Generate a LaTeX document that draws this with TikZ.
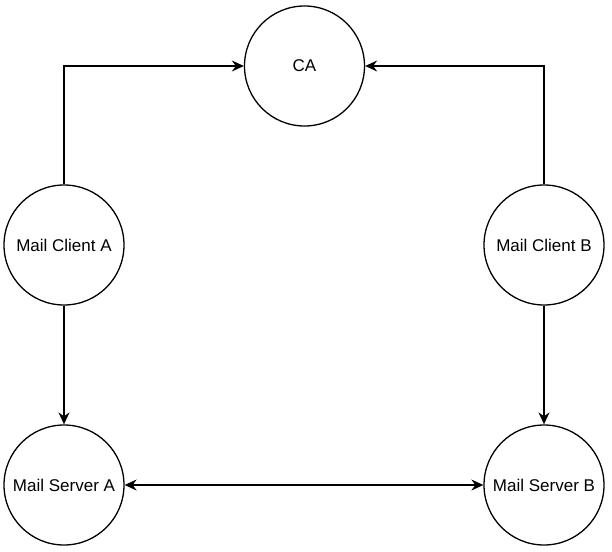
\documentclass[tikz,border=0pt]{standalone}
\usepackage{fontspec}
\setmainfont{Liberation Sans}
\usetikzlibrary{arrows.meta}
\begin{document}
\begin{tikzpicture}[x=1pt,y=-1pt,
  entity/.style={circle,draw=black,line width=1.3pt,minimum size=120pt,inner sep=0pt,font=\fontsize{17}{20}\selectfont},
  conn/.style={line width=1.3pt,-{Stealth[length=12pt,width=11pt,inset=4pt]}},
  bconn/.style={line width=1.3pt,{Stealth[length=12pt,width=11pt,inset=4pt]}-{Stealth[length=12pt,width=11pt,inset=4pt]}}]
\useasboundingbox (0,0) rectangle (612,551);
\node[entity] (ca) at (304.5,66) {CA};
\node[entity] (mca) at (64,245) {Mail Client A};
\node[entity] (mcb) at (544,245) {Mail Client B};
\node[entity] (msa) at (64,485) {Mail Server A};
\node[entity] (msb) at (544,485) {Mail Server B};
\draw[conn] (mca.north) |- (ca.west);
\draw[conn] (mcb.north) |- (ca.east);
\draw[conn] (mca.south) -- (msa.north);
\draw[conn] (mcb.south) -- (msb.north);
\draw[bconn] (msa.east) -- (msb.west);
\end{tikzpicture}
\end{document}
